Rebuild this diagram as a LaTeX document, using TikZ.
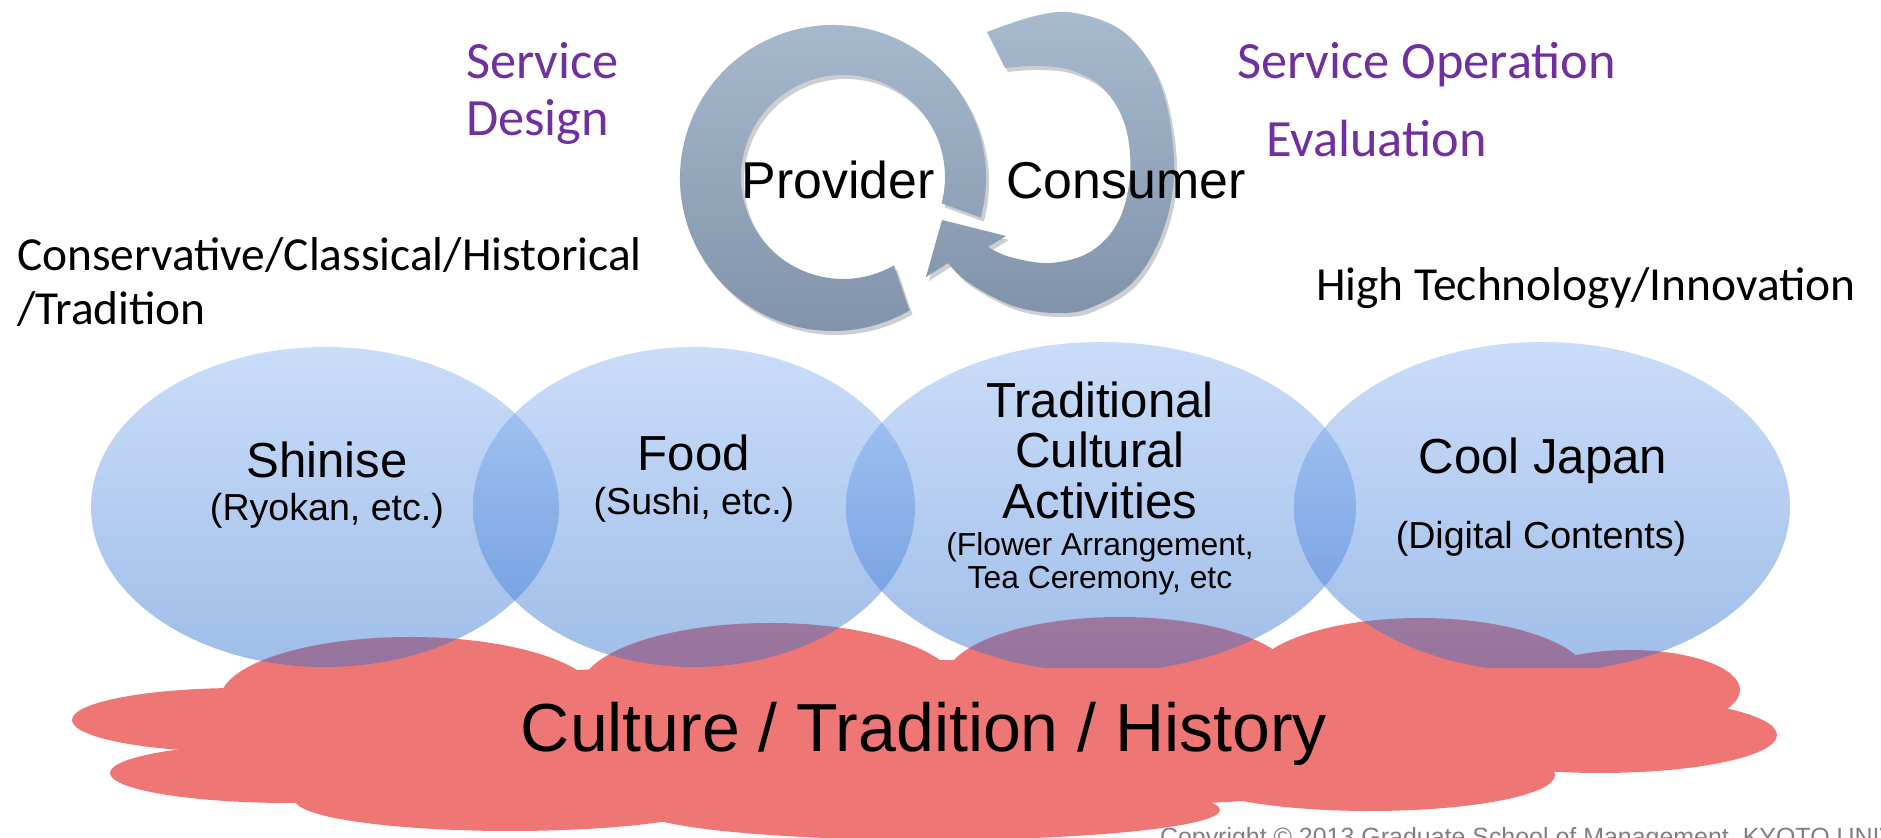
\documentclass[tikz,border=0pt]{standalone}
\usepackage{fontspec}
\setmainfont{Carlito}
\newfontfamily\gothic{Liberation Sans}
\definecolor{svpurple}{HTML}{7030A0}
\definecolor{cloudred}{HTML}{EE7775}
\definecolor{elltop}{RGB}{138,180,242}
\definecolor{ellbot}{RGB}{44,111,207}
\definecolor{ringtop}{HTML}{A8BACE}
\definecolor{ringbot}{HTML}{8193AA}
\definecolor{ringshadow}{HTML}{8E949C}
\definecolor{copygray}{HTML}{808080}
\newcommand\ringLshape[1]{#1 (833,660) ++(-15:153) arc[start angle=-15,end angle=300,radius=153] -- (894,572.7) arc[start angle=300,end angle=-15,radius=102] -- cycle;}
\newcommand\ringRshape[1]{#1 plot[smooth,tension=0.6] coordinates {(987,806) (1035,822) (1075,825) (1125,805) (1160,755) (1174,678) (1165,613) (1135,558) (1090,530) (1055,525) (1020,530) (993,541) (965,558) (948,575)} -- (926,561) -- (942,618) -- (1006,602) -- (988,591) -- plot[smooth,tension=0.6] coordinates {(988,591) (1010,581) (1050,575) (1090,586) (1118,616) (1130,663) (1125,713) (1103,750) (1070,768) (1035,772) (1005,770)} -- cycle;}
\tikzset{
  lbl/.style={inner sep=0pt, outer sep=0pt},
  svtxt/.style={lbl, text=svpurple, font=\fontsize{29.8pt}{34pt}\selectfont},
  blk/.style={lbl, font=\fontsize{27pt}{32pt}\selectfont},
  pctxt/.style={lbl, font=\gothic\fontsize{29.5pt}{34pt}\selectfont},
  ttl/.style={lbl, font=\gothic\fontsize{28pt}{33pt}\selectfont},
  subt/.style={lbl, font=\gothic\fontsize{21.4pt}{25pt}\selectfont},
  smallt/.style={lbl, font=\gothic\fontsize{18.1pt}{22pt}\selectfont},
  bigt/.style={lbl, font=\gothic\fontsize{38.7pt}{44pt}\selectfont},
  copyt/.style={lbl, text=copygray, font=\gothic\fontsize{14.2pt}{17pt}\selectfont},
  ellshade/.style={top color=elltop, bottom color=ellbot, opacity=0.45},
  cloud/.style={fill=cloudred},
}
\begin{document}
\begin{tikzpicture}[x=0.02cm,y=0.02cm]
\useasboundingbox (0,0) rectangle (1881,838);
\fill[white] (0,0) rectangle (1881,838);
% rings
\begin{scope}[shift={(3,-4)}]
  \ringLshape{\fill[ringshadow,opacity=0.45]}
  \ringRshape{\fill[ringshadow,opacity=0.45]}
\end{scope}
\ringLshape{\shade[top color=ringtop,bottom color=ringbot]}
\ringRshape{\shade[top color=ringtop,bottom color=ringbot]}
% cloud
\fill[cloud] (410,138) ellipse [x radius=190,y radius=63];
\fill[cloud] (770,148) ellipse [x radius=190,y radius=67];
\fill[cloud] (1120,158) ellipse [x radius=175,y radius=63];
\fill[cloud] (1420,158) ellipse [x radius=170,y radius=62];
\fill[cloud] (1630,148) ellipse [x radius=110,y radius=40];
\fill[cloud] (1600,103) ellipse [x radius=177,y radius=38];
\fill[cloud] (1370,63) ellipse [x radius=185,y radius=36];
\fill[cloud] (930,28) ellipse [x radius=290,y radius=30];
\fill[cloud] (510,38) ellipse [x radius=215,y radius=31];
\fill[cloud] (240,118) ellipse [x radius=168,y radius=32];
\fill[cloud] (290,65) ellipse [x radius=180,y radius=30];
\fill[cloud] (920,103) ellipse [x radius=680,y radius=75];
% ellipses
\begin{scope}
  \clip (0,170) rectangle (1881,838);
  \shade[ellshade] (325,331) ellipse [x radius=234,y radius=160];
  \shade[ellshade] (694,331) ellipse [x radius=221,y radius=160];
  \shade[ellshade] (1101,331) ellipse [x radius=255,y radius=165];
  \shade[ellshade] (1542,331) ellipse [x radius=248,y radius=165];
\end{scope}
% top texts
\node[svtxt, anchor=base west] (sd1) at (466,759) {Service};
\node[svtxt, anchor=base west] (sd2) at (466,702) {Design};
\node[svtxt, anchor=base west] (so) at (1237,759) {Service Operation};
\node[svtxt, anchor=base west] (ev) at (1266,681) {Evaluation};
\node[pctxt, anchor=base] (prov) at (838,639) {Provider};
\node[pctxt, anchor=base] (cons) at (1126,639) {Consumer};
\node[blk, anchor=base west] (cv1) at (17,567) {Conservative/Classical/Historical};
\node[blk, anchor=base west] (cv2) at (17,513) {/Tradition};
\node[blk, anchor=base west] (hi) at (1316,537) {High Technology/Innovation};
% ellipse texts
\node[ttl, anchor=base] (shin) at (327,360) {Shinise};
\node[subt, anchor=base] (shin2) at (327,317) {(Ryokan, etc.)};
\node[ttl, anchor=base] (food) at (694,367) {Food};
\node[subt, anchor=base] (food2) at (694,323) {(Sushi, etc.)};
\node[ttl, anchor=base] (tr1) at (1100,420) {Traditional};
\node[ttl, anchor=base] (tr2) at (1100,370) {Cultural};
\node[ttl, anchor=base] (tr3) at (1100,319) {Activities};
\node[smallt, anchor=base] (tr4) at (1100,282) {(Flower Arrangement,};
\node[smallt, anchor=base] (tr5) at (1100,249) {Tea Ceremony, etc};
\node[ttl, anchor=base] (cool) at (1543,364) {Cool Japan};
\node[subt, anchor=base] (cool2) at (1541,289) {(Digital Contents)};
\node[bigt, anchor=base] (cult) at (924,86) {Culture / Tradition / History};
\node[copyt, anchor=base west] (copy) at (1160,-8) {Copyright © 2013 Graduate School of Management, KYOTO UNIVERSITY};
\end{tikzpicture}
\end{document}
